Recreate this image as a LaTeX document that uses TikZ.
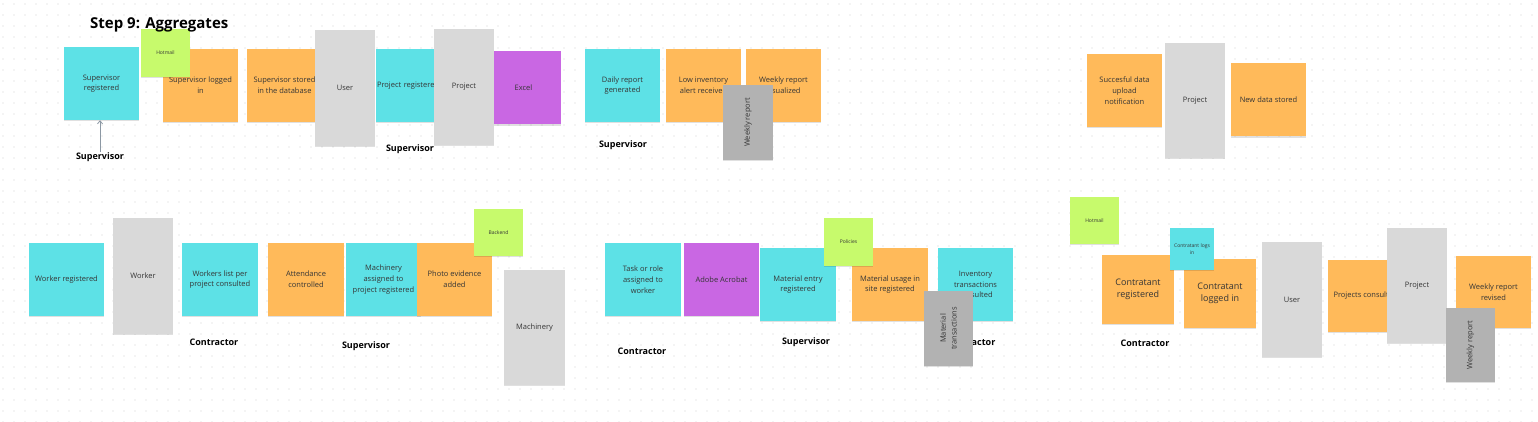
\documentclass[tikz,border=0pt]{standalone}
\usepackage{fontspec}
\setmainfont{Open Sans}
\usetikzlibrary{arrows.meta,shadows}
\definecolor{cyanN}{HTML}{5DE1E6}
\definecolor{orangeN}{HTML}{FFBA5A}
\definecolor{purpleN}{HTML}{C967E3}
\definecolor{limeN}{HTML}{C7FA6C}
\definecolor{lgreyN}{HTML}{D9D9D9}
\definecolor{dgreyN}{HTML}{B2B2B2}
\definecolor{dotN}{HTML}{D2D2D2}
\definecolor{txtN}{HTML}{353535}
\definecolor{arrN}{HTML}{8C98A4}
\tikzset{
 note/.style={inner sep=0pt, align=center, text=txtN, font=\fontsize{7.5}{10.7}\selectfont,
   drop shadow={shadow xshift=0pt, shadow yshift=-1.2pt, opacity=0.12, fill=black}},
 sz/.style 2 args={minimum width=#1pt, minimum height=#2pt},
 cnote/.style={note, fill=cyanN},
 onote/.style={note, fill=orangeN},
 pnote/.style={note, fill=purpleN},
 lnote/.style={note, fill=limeN, font=\fontsize{5}{6.5}\selectfont},
 gnote/.style={note, fill=lgreyN},
 dnote/.style={note, fill=dgreyN, rotate=90},
 bigtext/.style={font=\fontsize{9}{11.7}\selectfont},
 tinytext/.style={font=\fontsize{5}{6.5}\selectfont},
 lab/.style={font=\bfseries\fontsize{9}{11}\selectfont, text=black, inner sep=0pt},
 arr/.style={draw=arrN, line width=0.8pt, -{Straight Barb[length=3pt,width=5pt]}},
}
\begin{document}
\begin{tikzpicture}[x=1pt,y=-1pt]
\useasboundingbox (0,0) rectangle (1538,422);
\fill[white] (0,0) rectangle (1538,422);
% dot grid
\foreach \gx in {3,14,...,1538} {
  \foreach \gy in {4,15,...,422} {
    \fill[dotN] (\gx,\gy) circle (0.7pt);
  }
}
% ---------- top row ----------
\node[cnote, sz={75}{73}] (supreg) at (101.5,83.5) {Supervisor\\registered};
\node[onote, sz={75}{73}] (suplog) at (200.5,85.5) {Supervisor logged\\in};
\node[lnote, sz={49}{48}] (hotmaila) at (165.5,53) {Hotmail};
\node[anchor=base west, inner sep=0pt, font=\bfseries\fontsize{15}{17}\selectfont] (title) at (90,29) {Step 9: Aggregates};
\node[onote, sz={75}{73}] (supstore) at (284.5,85.5) {Supervisor stored\\in the database};
\node[gnote, sz={60}{116}] (usera) at (345,88) {User};
\node[cnote, sz={75}{73}, align=left, text width=73pt] (projreg) at (413.5,85.5) {Project registered};
\node[pnote, sz={75}{73}] (excel) at (523.5,88) {Excel};
\node[gnote, sz={60}{116}] (proja) at (464,87) {Project};
\node[lab] (suplaba) at (100,157) {Supervisor};
\node[lab] (suplabb) at (410,149) {Supervisor};
\draw[arr] (suplaba.north) -- (suplaba.north |- supreg.south);

\node[cnote, sz={75}{73}] (daily) at (622.5,85.5) {Daily report\\generated};
\node[onote, sz={75}{73}] (lowinv) at (703.5,85.5) {Low inventory\\alert received};
\node[onote, sz={75}{73}] (weekvis) at (783.5,85.5) {Weekly report\\visualized};
\node[dnote, sz={75}{50}] (weekrepa) at (748,122.5) {Weekly report};
\node[lab] (suplabc) at (623,145) {Supervisor};

\node[onote, sz={75}{73}] (sucdata) at (1124.5,90.5) {Succesful data\\upload\\notification};
\node[gnote, sz={60}{115}] (projb) at (1195,100.5) {Project};
\node[onote, sz={75}{73}] (newdata) at (1268.5,100) {New data stored};

% ---------- bottom row ----------
\node[cnote, sz={75}{73}] (workreg) at (66.5,279.5) {Worker registered};
\node[gnote, sz={60}{116}] (worker) at (143,276) {Worker};
\node[cnote, sz={76}{73}] (worklist) at (220,279.5) {Workers list per\\project consulted};
\node[onote, sz={76}{73}] (attend) at (306,279.5) {Attendance\\controlled};
\node[cnote, sz={75}{73}] (machass) at (383.5,279.5) {Machinery\\assigned to\\project registered};
\node[onote, sz={75}{73}] (photo) at (454.5,279.5) {Photo evidence\\added};
\node[lnote, sz={49}{47}] (backend) at (498.5,232.5) {Backend};
\node[gnote, sz={61}{115}] (machinery) at (534.5,327.5) {Machinery};
\node[lab] (contlaba) at (214,342) {Contractor};
\node[lab] (suplabd) at (366,346) {Supervisor};

\node[cnote, sz={76}{73}] (task) at (643,279.5) {Task or role\\assigned to\\worker};
\node[pnote, sz={75}{73}] (acrobat) at (721.5,279.5) {Adobe Acrobat};
\node[cnote, sz={76}{73}] (matentry) at (798,284.5) {Material entry\\registered};
\node[onote, sz={76}{73}] (matusage) at (890,284.5) {Material usage in\\site registered};
\node[lnote, sz={49}{48}] (policies) at (848.5,242) {Policies};
\node[cnote, sz={75}{73}] (invtrans) at (975.5,284.5) {Inventory\\transactions\\consulted};
\node[lab] (contlabc) at (971,342) {Contractor};
\node[dnote, sz={75}{49}] (matrans) at (948.5,328.5) {Material\\transactions};
\node[lab] (contlabb) at (642,351) {Contractor};
\node[lab] (suplabe) at (806,342) {Supervisor};

\node[lnote, sz={49}{47}] (hotmailb) at (1094.5,220.5) {Hotmail};
\node[onote, bigtext, sz={72}{69}] (contreg) at (1138,289.5) {Contratant\\registered};
\node[onote, bigtext, sz={72}{69}] (contlog) at (1220,293.5) {Contratant\\logged in};
\node[cnote, tinytext, sz={44}{42}] (contlogs) at (1192,249) {Contratant logs\\in};
\node[gnote, sz={60}{115}] (userb) at (1292,299.5) {User};
\node[onote, sz={75}{72}] (projcons) at (1365.5,296) {Projects consulted};
\node[gnote, sz={60}{115}] (projc) at (1417,285.5) {Project};
\node[onote, sz={75}{72}] (weekrev) at (1493.5,292) {Weekly report\\revised};
\node[dnote, sz={74}{49}] (weekrepb) at (1470.5,345) {Weekly report};
\node[lab] (contlabd) at (1145,343) {Contractor};
\end{tikzpicture}
\end{document}
